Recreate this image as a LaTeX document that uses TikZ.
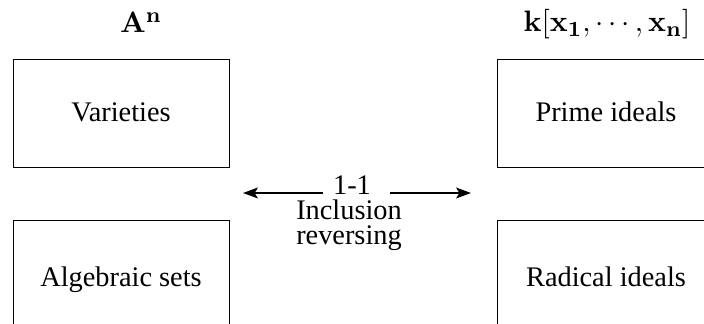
\documentclass[tikz,border=0pt]{standalone}
\usepackage[no-math]{fontspec}
\setmainfont{Liberation Serif}
\usetikzlibrary{arrows.meta}
\tikzset{
  box/.style={draw, line width=0.35pt, minimum width=80pt, minimum height=40pt, inner sep=0pt},
  lab/.style={font=\fontsize{10.5}{10.5}\selectfont, inner sep=0pt},
  mlab/.style={font=\fontsize{10.95}{10.95}\selectfont, inner sep=0pt},
  arr/.style={-{Stealth[length=5.5pt,width=4pt,inset=1.2pt]}, line width=0.75pt}
}
\begin{document}
\begin{tikzpicture}[x=0.37037pt,y=0.37037pt]
\clip (0,0) rectangle (704,-324);
\node[box] (var) at (121,-113.5) {};
\node[box] (alg) at (121,-274) {};
\node[box] (pri) at (605,-113.5) {};
\node[box] (rad) at (605,-274) {};
\node[lab, anchor=base] (tvar) at (121,-122) {Varieties};
\node[lab, anchor=base] (talg) at (121,-287) {Algebraic sets};
\node[lab, anchor=base] (tpri) at (606,-122) {Prime ideals};
\node[lab, anchor=base] (trad) at (606,-287) {Radical ideals};
\node[mlab, anchor=base] (hA) at (141,-33) {$\mathbf{A^n}$};
\node[mlab, anchor=base] (hk) at (607,-32) {$\mathbf{k}[\mathbf{x_1},\cdots,\mathbf{x_n}]$};
\node[lab, anchor=base] (one) at (352,-195) {1-1};
\node[lab, anchor=base] (inc) at (349,-220) {Inclusion};
\node[lab, anchor=base] (rev) at (349,-245) {reversing};
\coordinate (la) at (323,-193);
\coordinate (lt) at (243,-193);
\coordinate (ra) at (390,-193);
\coordinate (rt) at (471,-193);
\draw[arr] (la) -- (lt);
\draw[arr] (ra) -- (rt);
\end{tikzpicture}
\end{document}
